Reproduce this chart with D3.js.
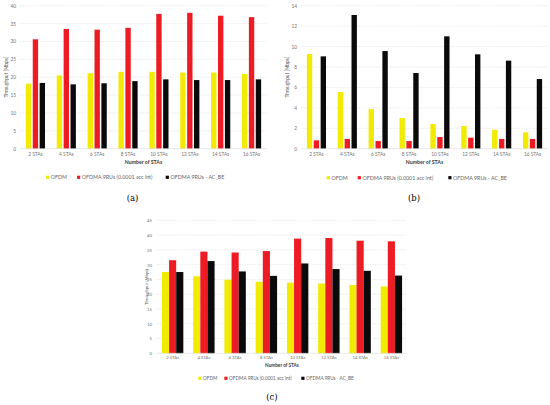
<!DOCTYPE html>
<html>
<head>
<meta charset="utf-8">
<script src="https://cdn.jsdelivr.net/npm/d3@7"></script>
<style>
  body { margin: 0; background: #fff; }
  text { font-family: Lato, "Open Sans", sans-serif; }
</style>
</head>
<body>
<svg width="550" height="405"></svg>
<script>
// categories and series
var categories = ["2 STAs", "4 STAs", "6 STAs", "8 STAs", "10 STAs", "12 STAs", "14 STAs", "16 STAs"];
var seriesNames = ["OFDM", "OFDMA 9RUs (0.0001 acc int)", "OFDMA 9RUs - AC_BE"];

// (a)
var ofdmA  = [18.2, 20.5, 21.1, 21.5, 21.5, 21.3, 21.3, 20.9];
var ofdmaA = [30.6, 33.5, 33.3, 33.8, 37.7, 38.0, 37.2, 36.8];
var acbeA  = [18.4, 18.0, 18.3, 18.9, 19.4, 19.2, 19.2, 19.4];
var yTicksA = [0, 5, 10, 15, 20, 25, 30, 35, 40];

// (b)
var ofdmB  = [9.27, 5.55, 3.88, 3.0, 2.42, 2.22, 1.86, 1.6];
var ofdmaB = [0.82, 0.95, 0.75, 0.75, 1.14, 1.08, 0.95, 0.95];
var acbeB  = [9.04, 13.09, 9.56, 7.41, 11.0, 9.24, 8.62, 6.82];
var yTicksB = [0, 2, 4, 6, 8, 10, 12, 14];

// (c)
var ofdmC  = [27.5, 26.05, 24.9, 24.2, 23.9, 23.6, 23.1, 22.6];
var ofdmaC = [31.5, 34.4, 34.1, 34.6, 38.8, 39.0, 38.1, 37.9];
var acbeC  = [27.5, 31.2, 27.7, 26.2, 30.4, 28.5, 27.9, 26.3];
var yTicksC = [0, 5, 10, 15, 20, 25, 30, 35, 40, 45];

var colors = ["#f2ea00", "#ed1c24", "#0a0a0a"];

var svg = d3.select("svg");

function drawPanel(p) {
    var g = svg.append("g");
    var series = [p.s1, p.s2, p.s3];

    var x0 = d3.scaleBand()
        .domain(categories)
        .range([p.left, p.right])
        .paddingInner(p.padIn)
        .paddingOuter(p.padIn / 2);

    var x1 = d3.scaleBand()
        .domain([0, 1, 2])
        .range([0, x0.bandwidth()])
        .paddingInner(p.barPad);

    var y = d3.scaleLinear()
        .domain([0, p.yTicks[p.yTicks.length - 1]])
        .range([p.bottom, p.top]);

    // gridlines
    g.append("g").selectAll("line")
        .data(p.yTicks.slice(1))
        .enter().append("line")
        .attr("x1", p.left).attr("x2", p.right)
        .attr("y1", function (d) { return y(d); })
        .attr("y2", function (d) { return y(d); })
        .attr("stroke", "#d9d9d9")
        .attr("stroke-width", 0.5)
        .attr("stroke-dasharray", "1.5,1");

    // y labels via axis
    var yAxis = g.append("g")
        .attr("transform", "translate(" + p.yLabelX + ",0)")
        .call(d3.axisLeft(y).tickValues(p.yTicks).tickSize(0).tickPadding(0));
    yAxis.select(".domain").remove();
    yAxis.selectAll("text")
        .attr("fill", "#737373")
        .style("font-size", p.fs + "px");

    // bars
    var groups = g.append("g").selectAll("g")
        .data(categories)
        .enter().append("g")
        .attr("transform", function (d) { return "translate(" + x0(d) + ",0)"; });

    groups.selectAll("rect")
        .data(function (d, i) { return series.map(function (s, k) { return {k: k, v: s[i]}; }); })
        .enter().append("rect")
        .attr("x", function (d) { return x1(d.k); })
        .attr("width", x1.bandwidth())
        .attr("y", function (d) { return y(d.v); })
        .attr("height", function (d) { return y(0) - y(d.v); })
        .attr("fill", function (d) { return colors[d.k]; });

    // baseline
    g.append("line")
        .attr("x1", p.left).attr("x2", p.right)
        .attr("y1", y(0)).attr("y2", y(0))
        .attr("stroke", "#d9d9d9")
        .attr("stroke-width", 0.6);

    // x labels
    var xAxis = g.append("g")
        .attr("transform", "translate(0," + (p.bottom + p.xLabelGap) + ")")
        .call(d3.axisBottom(x0).tickSize(0).tickPadding(0));
    xAxis.select(".domain").remove();
    xAxis.selectAll("text")
        .attr("fill", "#737373")
        .attr("dy", "0.35em")
        .style("font-size", p.fs + "px");

    // axis titles
    g.append("text")
        .attr("x", (p.left + p.right) / 2)
        .attr("y", p.xTitleY)
        .attr("dy", "0.35em")
        .attr("text-anchor", "middle")
        .attr("fill", "#404040")
        .style("font-size", (p.fs + 0.4) + "px")
        .style("font-weight", "bold")
        .text("Number of STAs");

    g.append("text")
        .attr("transform", "translate(" + p.yTitleX + "," + ((p.top + p.bottom) / 2) + ") rotate(-90)")
        .attr("dy", "0.35em")
        .attr("text-anchor", "middle")
        .attr("fill", "#595959")
        .style("font-size", p.fs + "px")
        .text("Throughput [Mbps]");

    // legend
    var leg = g.append("g").selectAll("g")
        .data(seriesNames)
        .enter().append("g")
        .attr("transform", function (d, i) { return "translate(" + p.legX[i] + "," + p.legY + ")"; });
    leg.append("rect")
        .attr("x", 0).attr("y", -1.6)
        .attr("width", 3.2).attr("height", 3.2)
        .attr("fill", function (d, i) { return colors[i]; });
    leg.append("text")
        .attr("x", 4.8)
        .attr("dy", "0.35em")
        .attr("fill", "#666")
        .style("font-size", p.legFs + "px")
        .text(function (d) { return d; });

    // caption
    g.append("text")
        .attr("x", p.capX)
        .attr("y", p.capY)
        .attr("dy", "0.35em")
        .attr("text-anchor", "middle")
        .attr("fill", "#000")
        .style("font-family", "'DejaVu Serif', 'Liberation Serif', serif")
        .style("font-size", "8.5px")
        .text(p.caption);
}

drawPanel({
    s1: ofdmA, s2: ofdmaA, s3: acbeA, yTicks: yTicksA,
    left: 20, right: 267, top: 5.7, bottom: 148.7,
    padIn: 0.38, barPad: 0.22, fs: 4.8, legFs: 5.3,
    yLabelX: 16, yTitleX: 6, xLabelGap: 6, xTitleY: 162.3,
    legX: [46, 77, 165.7], legY: 177.3, capX: 132.5, capY: 198, caption: "(a)"
});

drawPanel({
    s1: ofdmB, s2: ofdmaB, s3: acbeB, yTicks: yTicksB,
    left: 301, right: 548, top: 5.7, bottom: 148.7,
    padIn: 0.38, barPad: 0.22, fs: 4.8, legFs: 5.3,
    yLabelX: 297, yTitleX: 287, xLabelGap: 6, xTitleY: 162.3,
    legX: [326.7, 357.7, 448.3], legY: 177.7, capX: 414, capY: 198, caption: "(b)"
});

drawPanel({
    s1: ofdmC, s2: ofdmaC, s3: acbeC, yTicks: yTicksC,
    left: 157, right: 407, top: 220.3, bottom: 353.3,
    padIn: 0.315, barPad: 0.0, fs: 4.3, legFs: 4.7,
    yLabelX: 152, yTitleX: 146, xLabelGap: 4.5, xTitleY: 365,
    legX: [198.3, 224.3, 301.3], legY: 378.3, capX: 272, capY: 396.7, caption: "(c)"
});
</script>
</body>
</html>
